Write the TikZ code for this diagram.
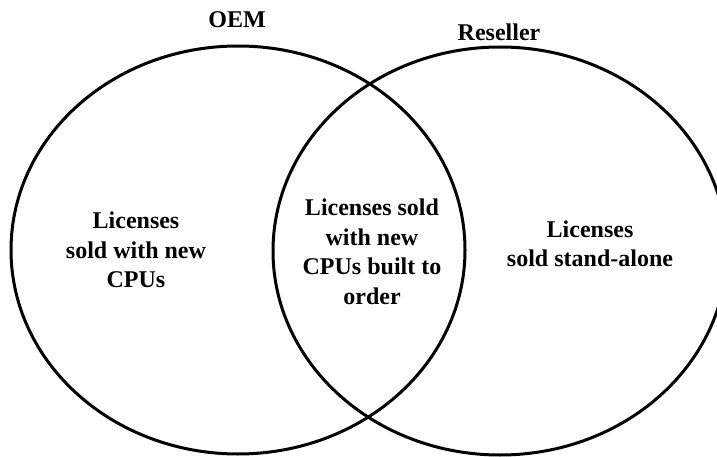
\documentclass[tikz,border=0pt]{standalone}
\usepackage{fontspec}
\setmainfont{Liberation Serif}
\begin{document}
\begin{tikzpicture}[x=1pt,y=-1pt,
  setcirc/.style={draw=black,line width=3pt},
  lbl/.style={font=\bfseries\fontsize{24}{29.5}\selectfont,align=center,inner sep=0pt}]
\useasboundingbox (0,0) rectangle (717,457);
\draw[setcirc] (238,250) ellipse [x radius=227pt, y radius=204pt];
\draw[setcirc] (500,251) ellipse [x radius=227pt, y radius=204pt];
\node[lbl] (oem) at (237,20) {OEM};
\node[lbl] (res) at (499,32) {Reseller};
\node[lbl] (left) at (136,250) {Licenses\\sold with new\\CPUs};
\node[lbl] (mid) at (372,252) {Licenses sold\\with new\\CPUs built to\\order};
\node[lbl] (right) at (590,244) {Licenses\\sold stand-alone};
\end{tikzpicture}
\end{document}
